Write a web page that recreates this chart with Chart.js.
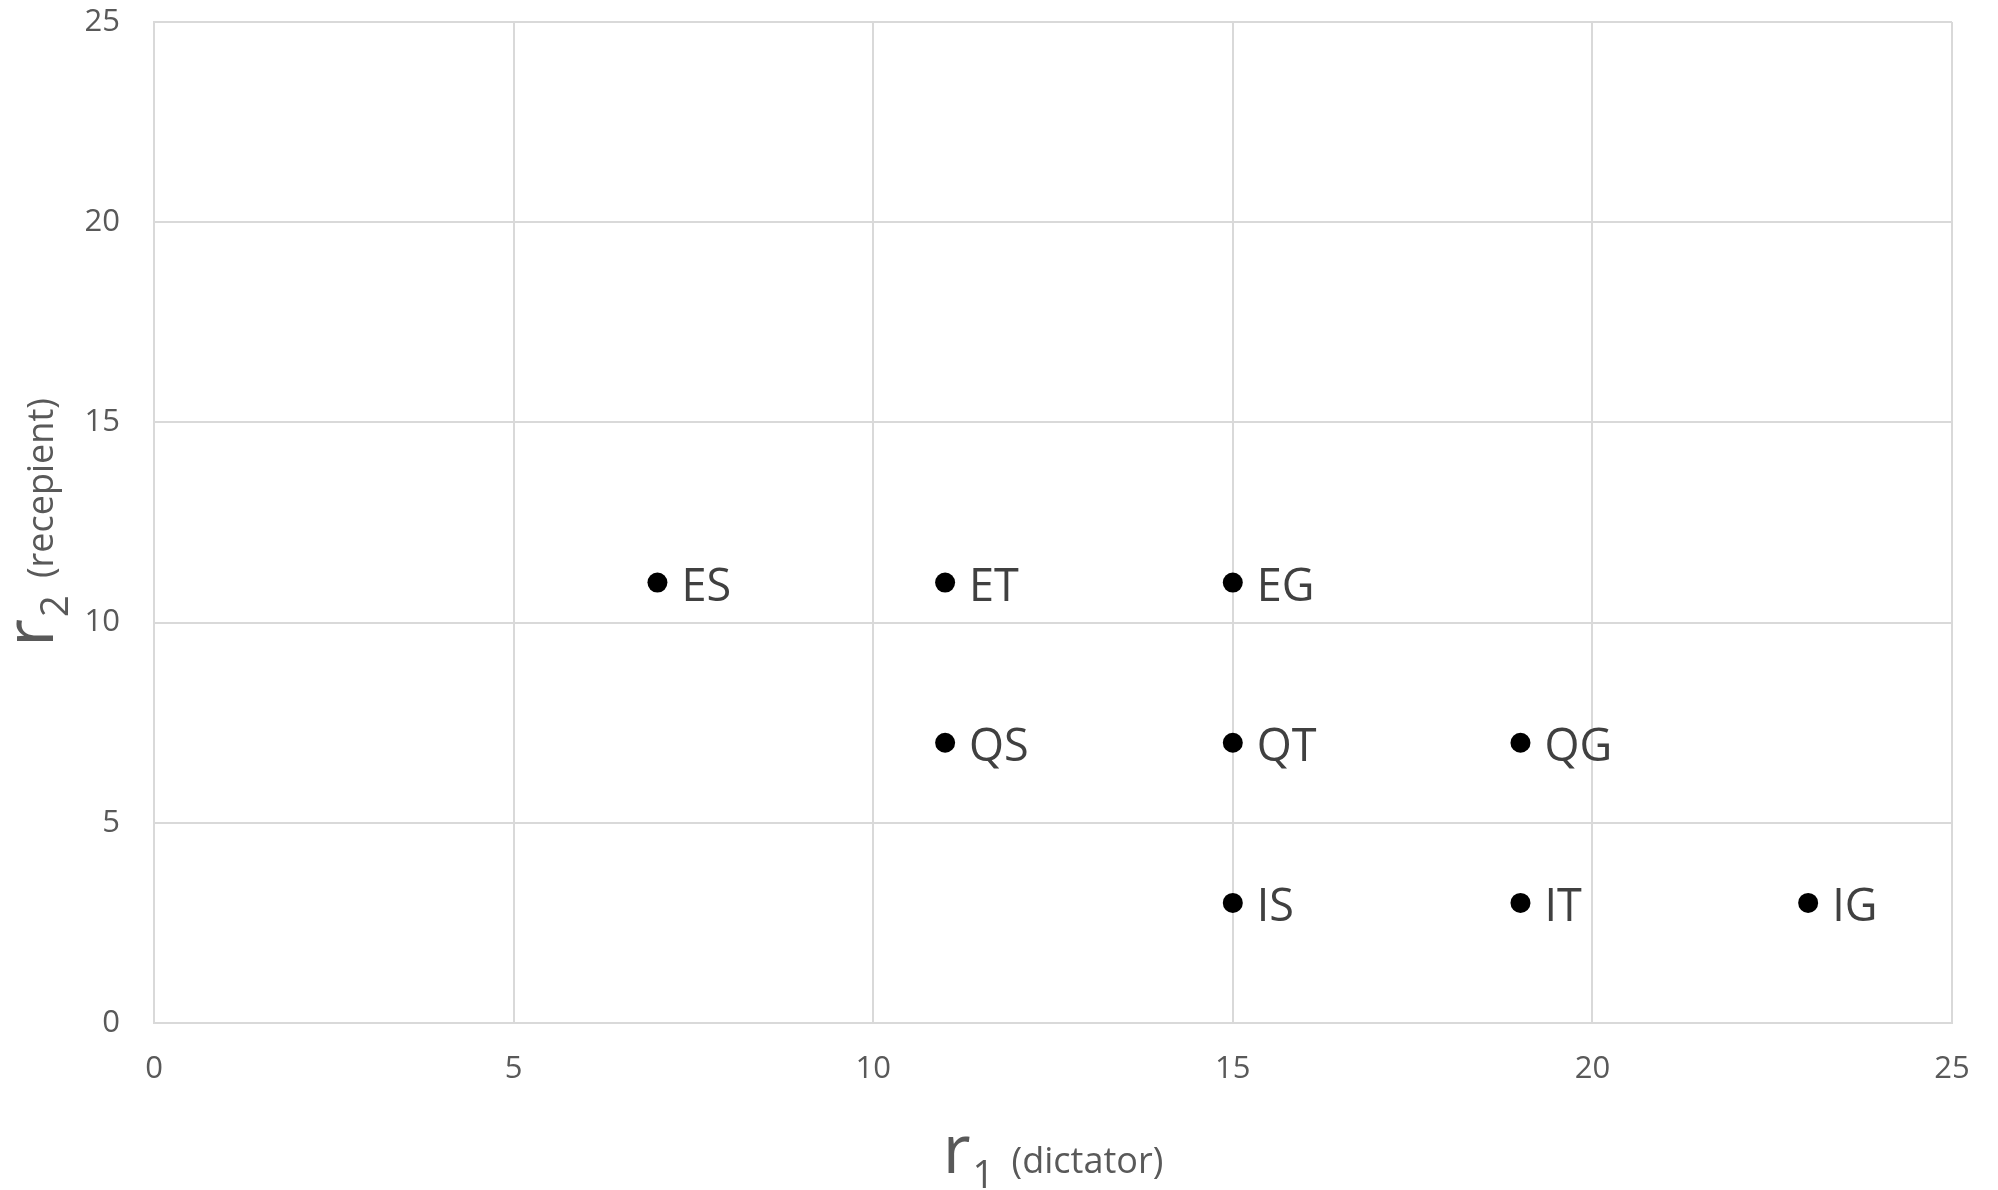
<!DOCTYPE html>
<html>
<head>
<meta charset="utf-8">
<script src="https://cdn.jsdelivr.net/npm/chart.js@4/dist/chart.umd.min.js"></script>
<style>
html,body{margin:0;padding:0;background:#fff;}
#wrap{width:1998px;height:1190px;}
</style>
</head>
<body>
<div id="wrap"><canvas id="c" width="1998" height="1190"></canvas></div>
<script>
const categories = ['ES','ET','EG','QS','QT','QG','IS','IT','IG'];
const r1Values = [7, 11, 15, 11, 15, 19, 15, 19, 23];
const r2Values = [11, 11, 11, 7, 7, 7, 3, 3, 3];
const axisMin = 0, axisMax = 25, axisStep = 5;
const xTitle = {main: 'r', sub: '1', rest: '(dictator)'};
const yTitle = {main: 'r', sub: '2', rest: '(recepient)'};

const FONT = '"Open Sans", "Noto Sans", sans-serif';
const gridColor = '#d9d9d9';

const points = r1Values.map((x, i) => ({x: x, y: r2Values[i]}));

function drawRichTitle(ctx, t) {
  const mainF = '68px ' + FONT, subF = '38px ' + FONT, restF = '36px ' + FONT;
  ctx.font = mainF; const wm = ctx.measureText(t.main).width;
  ctx.font = subF; const ws = ctx.measureText(t.sub).width;
  ctx.font = restF; const wsp = ctx.measureText(' ').width; const wr = ctx.measureText(t.rest).width;
  const total = wm + 2 + ws + wsp + 8 + wr;
  let x = -total / 2;
  ctx.fillStyle = '#595959';
  ctx.textBaseline = 'alphabetic';
  ctx.textAlign = 'left';
  ctx.font = mainF; ctx.fillText(t.main, x, 0); x += wm + 2;
  ctx.font = subF; ctx.fillText(t.sub, x, 15); x += ws + wsp + 8;
  ctx.font = restF; ctx.fillText(t.rest, x, 0);
}

const extras = {
  id: 'extras',
  afterDatasetsDraw(chart) {
    const ctx = chart.ctx;
    const meta = chart.getDatasetMeta(0);
    ctx.save();
    ctx.font = '45px ' + FONT;
    ctx.fillStyle = '#404040';
    ctx.textAlign = 'left';
    ctx.textBaseline = 'alphabetic';
    meta.data.forEach((pt, i) => {
      ctx.fillText(categories[i], pt.x + 24, pt.y + 18);
    });
    ctx.restore();
  },
  afterDraw(chart) {
    const ctx = chart.ctx;
    const a = chart.chartArea;
    ctx.save();
    ctx.translate((a.left + a.right) / 2, 1173);
    drawRichTitle(ctx, xTitle);
    ctx.restore();
    ctx.save();
    ctx.translate(53, (a.top + a.bottom) / 2);
    ctx.rotate(-Math.PI / 2);
    drawRichTitle(ctx, yTitle);
    ctx.restore();
  }
};

new Chart(document.getElementById('c'), {
  type: 'scatter',
  data: {
    datasets: [{
      data: points,
      backgroundColor: '#000000',
      borderColor: '#000000',
      pointRadius: 10,
      pointHoverRadius: 10,
      borderWidth: 0
    }]
  },
  options: {
    responsive: false,
    animation: false,
    events: [],
    layout: {padding: {left: 0, top: 22, right: 46, bottom: 0}},
    plugins: {legend: {display: false}, tooltip: {enabled: false}},
    scales: {
      x: {
        type: 'linear', min: axisMin, max: axisMax,
        ticks: {stepSize: axisStep, color: '#595959', font: {family: FONT, size: 31}, padding: 28},
        grid: {color: gridColor, lineWidth: 2, drawTicks: false},
        border: {color: gridColor, width: 2},
        afterFit(s) { s.height = 167; s.paddingLeft = 0; s.paddingRight = 0; }
      },
      y: {
        type: 'linear', min: axisMin, max: axisMax,
        ticks: {stepSize: axisStep, color: '#595959', font: {family: FONT, size: 31}, padding: 34},
        grid: {color: gridColor, lineWidth: 2, drawTicks: false},
        border: {color: gridColor, width: 2},
        afterFit(s) { s.width = 154; s.paddingTop = 0; s.paddingBottom = 0; }
      }
    }
  },
  plugins: [extras]
});
</script>
</body>
</html>
